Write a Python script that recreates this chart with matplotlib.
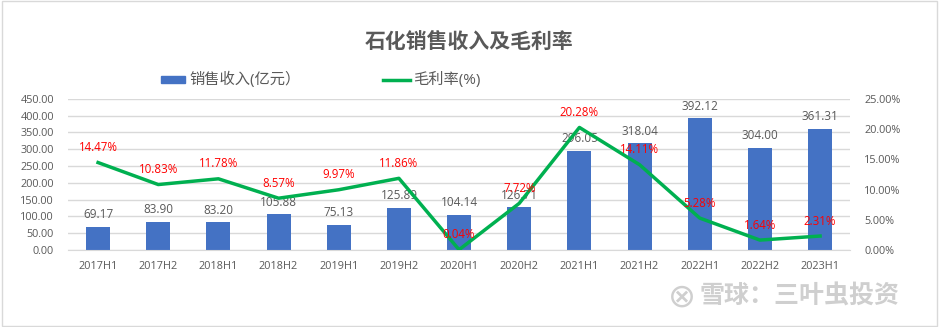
import matplotlib.pyplot as plt
import numpy as np
from matplotlib.patches import Rectangle

plt.rcParams['font.family'] = ['Open Sans', 'Noto Sans CJK SC', 'DejaVu Sans']

# half-year periods, revenue (100m yuan) and gross margin (%)
periods = ['2017H1', '2017H2', '2018H1', '2018H2', '2019H1', '2019H2', '2020H1',
           '2020H2', '2021H1', '2021H2', '2022H1', '2022H2', '2023H1']
revenue = [69.17, 83.90, 83.20, 105.88, 75.13, 125.89, 104.14,
           126.71, 296.05, 318.04, 392.12, 304.00, 361.31]
margin = [14.47, 10.83, 11.78, 8.57, 9.97, 11.86, 0.04,
          7.72, 20.28, 14.11, 5.28, 1.64, 2.31]

blue = '#4472C4'
green = '#00B050'
grey = '#595959'

fig = plt.figure(figsize=(9.39, 3.27), dpi=100)
ax = fig.add_axes([0.0724, 0.2355, 0.833, 0.462])
ax2 = ax.twinx()

x = np.arange(len(periods))
ax.bar(x, revenue, width=0.4, color=blue, zorder=2)
for xi, v in zip(x, revenue):
    ax.annotate(f'{v:.2f}', (xi, v), xytext=(0, 4), textcoords='offset points',
                ha='center', va='bottom', fontsize=8.5, color=grey, zorder=3)

ax.set_xlim(-0.5, len(periods) - 0.5)
ax.set_ylim(0, 450)
ax.set_yticks(np.arange(0, 451, 50))
ax.set_yticklabels([f'{t:.2f}' for t in np.arange(0, 451, 50)])
ax.set_xticks(x)
ax.set_xticklabels(periods)
ax.grid(axis='y', color='#D9D9D9', linewidth=1, zorder=0)
ax.set_axisbelow(True)

ax2.plot(x, margin, color=green, linewidth=2.5, zorder=4)
for xi, v in zip(x, margin):
    ax2.annotate(f'{v:.2f}%', (xi, v), xytext=(0, 6), textcoords='offset points',
                 ha='center', va='bottom', fontsize=8.3, color='#FF0000', zorder=5)
ax2.set_ylim(0, 25)
ax2.set_yticks(np.arange(0, 26, 5))
ax2.set_yticklabels([f'{t:.2f}%' for t in np.arange(0, 26, 5)])

for a in (ax, ax2):
    for s in a.spines.values():
        s.set_visible(False)
    a.tick_params(length=0, labelsize=7.8, labelcolor=grey)
ax.spines['bottom'].set_visible(True)
ax.spines['bottom'].set_color('#D9D9D9')
ax.tick_params(axis='x', pad=8)
ax.tick_params(axis='y', pad=10)
ax2.tick_params(axis='y', pad=10)

ax.set_zorder(ax2.get_zorder() - 1)
ax.patch.set_visible(False)
ax2.patch.set_visible(False)

fig.text(0.5, 0.87, '石化销售收入及毛利率', ha='center', va='center',
         fontsize=15, fontweight='bold', color=grey)

# legend
fig.patches.append(Rectangle((161 / 939, 1 - 83 / 327), 24 / 939, 7 / 327,
                             transform=fig.transFigure, color=blue))
fig.text(189 / 939, 1 - 80 / 327, '销售收入(亿元）', va='center', fontsize=11, color=grey)
fig.lines.append(plt.Line2D([383 / 939, 410 / 939], [1 - 80 / 327, 1 - 80 / 327],
                            transform=fig.transFigure, color=green, linewidth=2.5))
fig.text(413 / 939, 1 - 80 / 327, '毛利率(%)', va='center', fontsize=11, color=grey)

# watermark
fig.text(0.726, 0.092, '⊗', ha='center', va='center', fontsize=24,
         color='#CFCFCF', family=['DejaVu Sans'])
fig.text(0.745, 0.092, '雪球：三叶虫投资', ha='left', va='center', fontsize=18,
         fontweight='bold', color='#CFCFCF')

# frame
fig.patches.append(Rectangle((0.002, 0.004), 0.996, 0.992, transform=fig.transFigure,
                             fill=False, edgecolor='#D9D9D9', linewidth=1))

fig.savefig('out.png', dpi=100)
